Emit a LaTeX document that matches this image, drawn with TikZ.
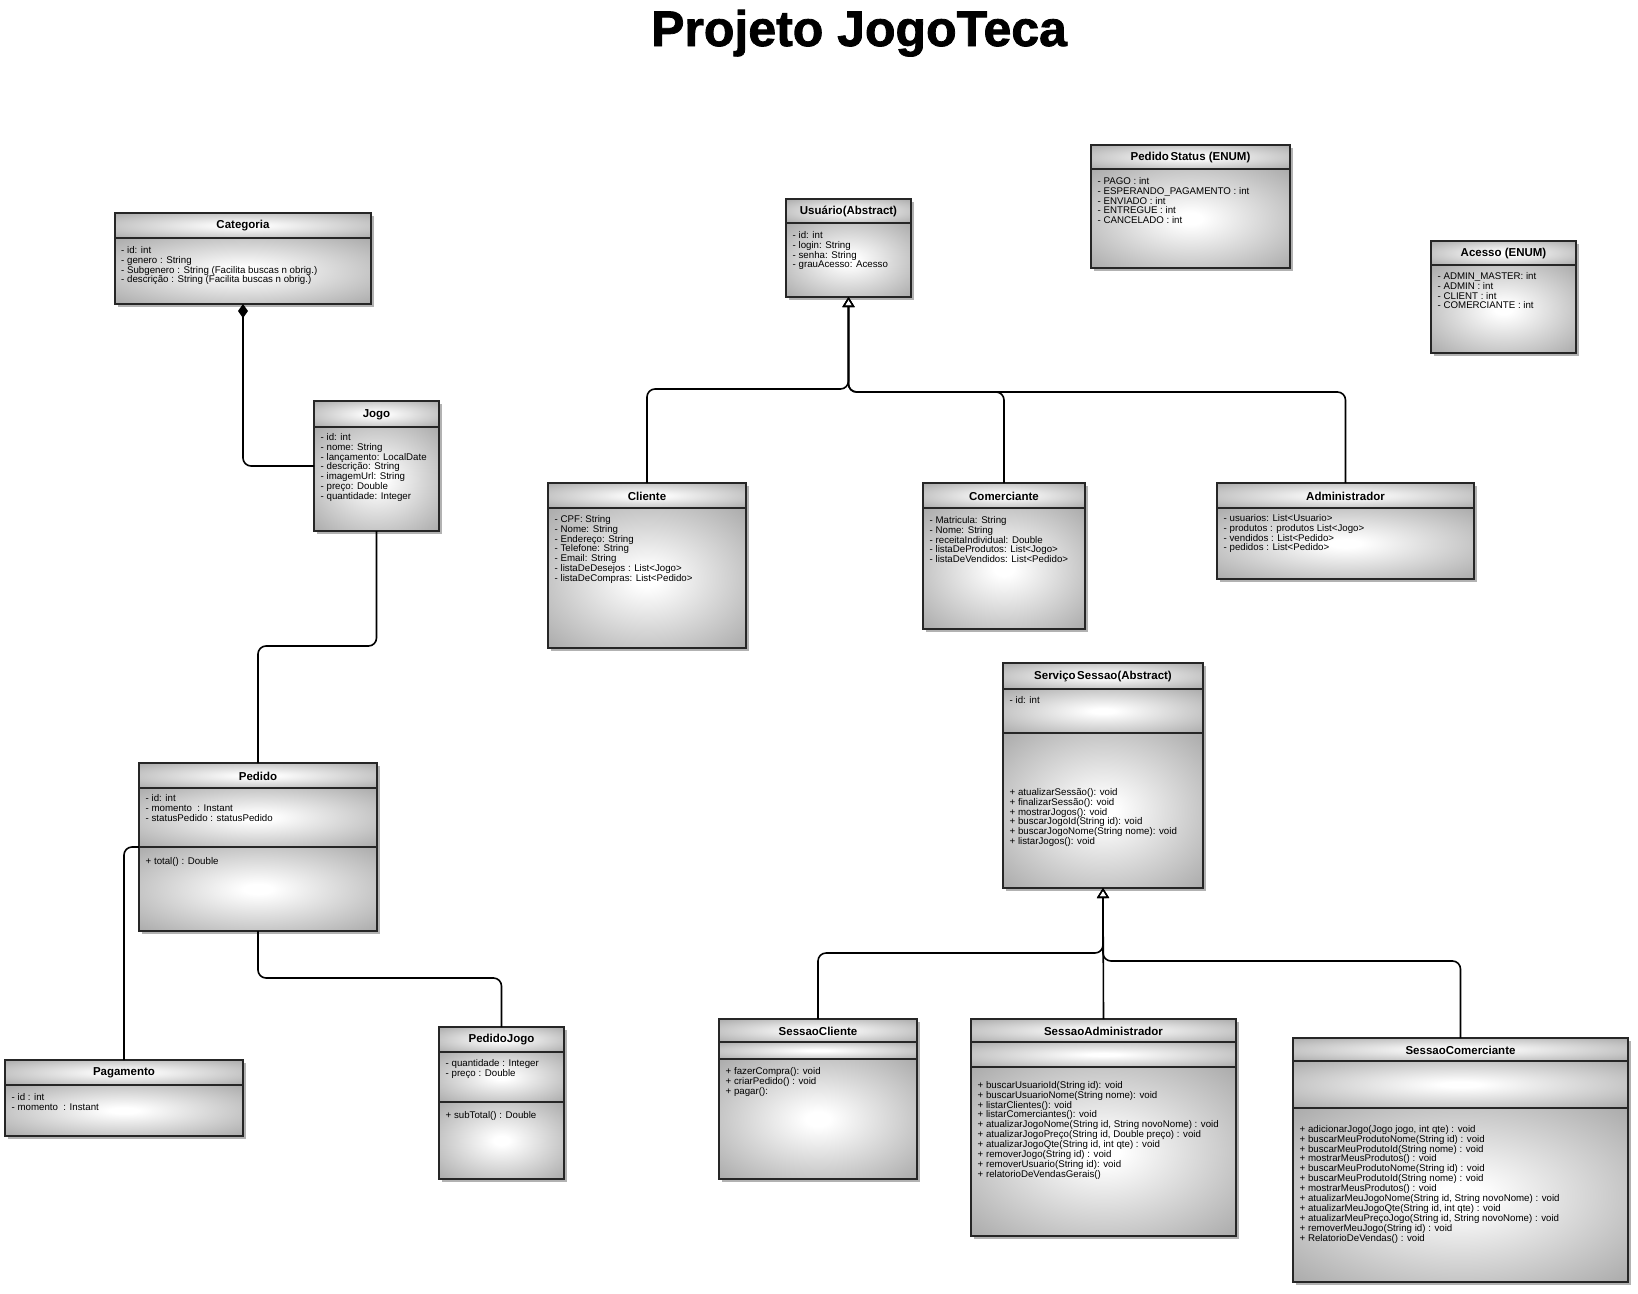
\documentclass[tikz,border=0pt]{standalone}
\usepackage{fontspec}
\setmainfont{Liberation Sans}
\newfontfamily\titlefont[BoldFeatures={FakeBold=1.6}]{Liberation Sans}
\usetikzlibrary{arrows.meta,shadows,calc}
\definecolor{ugray}{gray}{0.52}
\definecolor{ugrayd}{gray}{0.42}
\pgfdeclareradialshading{umlrad}{\pgfpoint{0bp}{0bp}}{color(0bp)=(white); color(3bp)=(white); color(50bp)=(ugray); color(72bp)=(ugrayd)}
\tikzset{
  ushadow/.style={rectangle, inner sep=0pt, outer sep=0pt, fill=ugray, draw=none,
    drop shadow={shadow xshift=3pt, shadow yshift=-3pt, fill=black, opacity=0.3}},
  usha/.style={shading=umlrad},
  uline/.style={draw=black!85, line width=1.1pt},
  utitle/.style={font=\fontsize{11.5}{12}\selectfont\bfseries, inner sep=0pt},
  utxt/.style={anchor=north west, inner sep=0pt, align=left, font=\fontsize{9.7}{9.9}\selectfont},
  assoc/.style={draw=black, line width=1.6pt, rounded corners=8pt},
  inh/.style={assoc, -{Triangle[open, length=10pt, width=12pt, line width=1.3pt]}},
  comp/.style={assoc, -{Diamond[length=14pt, width=10pt]}}
}
% #1 name, #2 x1, #3 y1, #4 x2, #5 y2, #6 header y, #7 section y (0 = none), #8 title
\newcommand\uclass[8]{%
  \node[ushadow, minimum width={(#4-#2)*1pt}, minimum height={(#5-#3)*1pt}, anchor=north west] (#1) at (#2,#3) {};
  \shade[usha] (#2,#3) rectangle (#4,#6);
  \ifnum#7>0
    \shade[usha] (#2,#6) rectangle (#4,#7);
    \shade[usha] (#2,#7) rectangle (#4,#5);
  \else
    \shade[usha] (#2,#6) rectangle (#4,#5);
  \fi
  \draw[uline] (#2,#3) rectangle (#4,#5);
  \draw[uline] (#2,#6) -- (#4,#6);
  \ifnum#7>0 \draw[uline] (#2,#7) -- (#4,#7); \fi
  \node[utitle] (#1-title) at ({(#2+#4)/2},{(#3+#6)/2+0.5}) {#8};
}
% #1 name, #2 x, #3 first baseline, #4 lines
\newcommand\utext[4]{\node[utxt] (#1) at (#2,{#3-7}) {\rule{0pt}{7pt}#4};}
\begin{document}
\begin{tikzpicture}[x=1pt,y=-1pt]
\fill[white] (0,0) rectangle (1638,1293);
\useasboundingbox (0,0) rectangle (1638,1293);

\node[anchor=base, inner sep=0pt, font=\titlefont\fontsize{50}{50}\selectfont\bfseries] (title) at (859,46) {Projeto JogoTeca};

% Categoria
\uclass{categoria}{115}{213}{371}{304}{238}{0}{Categoria}
\utext{categoria-a}{121}{253}{- id: int\\- genero : String\\- Subgenero : String (Facilita buscas n obrig.)\\- descrição : String (Facilita buscas n obrig.)}

% Jogo
\uclass{jogo}{314}{401}{439}{531}{427}{0}{Jogo}
\utext{jogo-a}{320.5}{440}{- id: int\\- nome: String\\- lançamento: LocalDate\\- descrição: String\\- imagemUrl: String\\- preço: Double\\- quantidade: Integer}

% Usuario
\uclass{usuario}{786}{199}{911}{297}{223}{0}{Usuário(Abstract)}
\utext{usuario-a}{792.5}{238}{- id: int\\- login: String\\- senha: String\\- grauAcesso: Acesso}

% PedidoStatus
\uclass{pstatus}{1091}{145}{1290}{268}{169}{0}{Pedido\kern1.5pt Status (ENUM)}
\utext{pstatus-a}{1097.5}{184}{- PAGO : int\\- ESPERANDO\_PAGAMENTO : int\\- ENVIADO : int\\- ENTREGUE : int\\- CANCELADO : int}

% Acesso
\uclass{acesso}{1431}{241}{1576}{353}{265}{0}{Acesso (ENUM)}
\utext{acesso-a}{1437.5}{279}{- ADMIN\_MASTER: int\\- ADMIN : int\\- CLIENT : int\\- COMERCIANTE : int}

% Cliente
\uclass{cliente}{548}{483}{746}{648}{508}{0}{Cliente}
\utext{cliente-a}{554.5}{522}{- CPF: String\\- Nome: String\\- Endereço: String\\- Telefone: String\\- Email: String\\- listaDeDesejos : List<Jogo>\\- listaDeCompras: List<Pedido>}

% Comerciante
\uclass{comerciante}{923}{483}{1085}{629}{508}{0}{Comerciante}
\utext{comerciante-a}{929.5}{523}{- Matricula: String\\- Nome: String\\- receitaIndividual: Double\\- listaDeProdutos: List<Jogo>\\- listaDeVendidos: List<Pedido>}

% Administrador
\uclass{admin}{1217}{483}{1474}{579}{508}{0}{Administrador}
\utext{admin-a}{1223.5}{521}{- usuarios: List<Usuario>\\- produtos : produtos List<Jogo>\\- vendidos : List<Pedido>\\- pedidos : List<Pedido>}

% ServicoSessao
\uclass{servico}{1003}{663}{1203}{888}{689}{733}{Serviço\kern1.5pt Sessao(Abstract)}
\utext{servico-a}{1009.5}{703}{- id: int}
\utext{servico-m}{1009.5}{795}{+ atualizarSessão(): void\\+ finalizarSessão(): void\\+ mostrarJogos(): void\\+ buscarJogoId(String id): void\\+ buscarJogoNome(String nome): void\\+ listarJogos(): void}

% Pedido
\uclass{pedido}{139}{763}{377}{931}{788}{847}{Pedido}
\utext{pedido-a}{145.5}{801}{- id: int\\- momento~ : Instant\\- statusPedido : statusPedido}
\utext{pedido-m}{145.5}{864}{+ total() : Double}

% Pagamento
\uclass{pagamento}{5}{1060}{243}{1136}{1085}{0}{Pagamento}
\utext{pagamento-a}{11.5}{1100}{- id : int\\- momento~ : Instant}

% PedidoJogo
\uclass{pedidojogo}{439}{1027}{564}{1179}{1052}{1102}{PedidoJogo}
\utext{pedidojogo-a}{445.5}{1066}{- quantidade : Integer\\- preço : Double}
\utext{pedidojogo-m}{445.5}{1118}{+ subTotal() : Double}

% SessaoCliente
\uclass{scliente}{719}{1019}{917}{1179}{1042}{1059}{SessaoCliente}
\utext{scliente-m}{725.5}{1074}{+ fazerCompra(): void\\+ criarPedido() : void\\+ pagar():}

% SessaoAdministrador
\uclass{sadmin}{971}{1019}{1236}{1236}{1042}{1067}{SessaoAdministrador}
\utext{sadmin-m}{977.5}{1088}{+ buscarUsuarioId(String id): void\\+ buscarUsuarioNome(String nome): void\\+ listarClientes(): void\\+ listarComerciantes(): void\\+ atualizarJogoNome(String id, String novoNome) : void\\+ atualizarJogoPreço(String id, Double preço) : void\\+ atualizarJogoQte(String id, int qte) : void\\+ removerJogo(String id) : void\\+ removerUsuario(String id): void\\+ relatorioDeVendasGerais()}

% SessaoComerciante
\uclass{scomerciante}{1293}{1038}{1628}{1282}{1061}{1108}{SessaoComerciante}
\utext{scomerciante-m}{1299.5}{1132}{+ adicionarJogo(Jogo jogo, int qte) : void\\+ buscarMeuProdutoNome(String id) : void\\+ buscarMeuProdutoId(String nome) : void\\+ mostrarMeusProdutos() : void\\+ buscarMeuProdutoNome(String id) : void\\+ buscarMeuProdutoId(String nome) : void\\+ mostrarMeusProdutos() : void\\+ atualizarMeuJogoNome(String id, String novoNome) : void\\+ atualizarMeuJogoQte(String id, int qte) : void\\+ atualizarMeuPreçoJogo(String id, String novoNome) : void\\+ removerMeuJogo(String id) : void\\+ RelatorioDeVendas() : void}

% connectors
\coordinate (pedidoSec) at (139,847);
\draw[comp] (jogo.west) -| (categoria.south);
\draw[assoc] (jogo.south) -- ++(0,115) -| (pedido.north);
\draw[assoc] (pagamento.north) |- (pedidoSec);
\draw[assoc] (pedido.south) -- ++(0,47) -| (pedidojogo.north);

\draw[inh] (cliente.north) -- ++(0,-94) -| (usuario.south);
\draw[inh] (comerciante.north) -- ++(0,-91) -| (usuario.south);
\draw[inh] (admin.north) -- ++(0,-91) -| (usuario.south);

\draw[inh] (scliente.north) -- ++(0,-66) -| (servico.south);
\draw[inh] (sadmin.north) -- (servico.south);
\draw[inh] (scomerciante.north) -- ++(0,-77) -| (servico.south);
\end{tikzpicture}
\end{document}
